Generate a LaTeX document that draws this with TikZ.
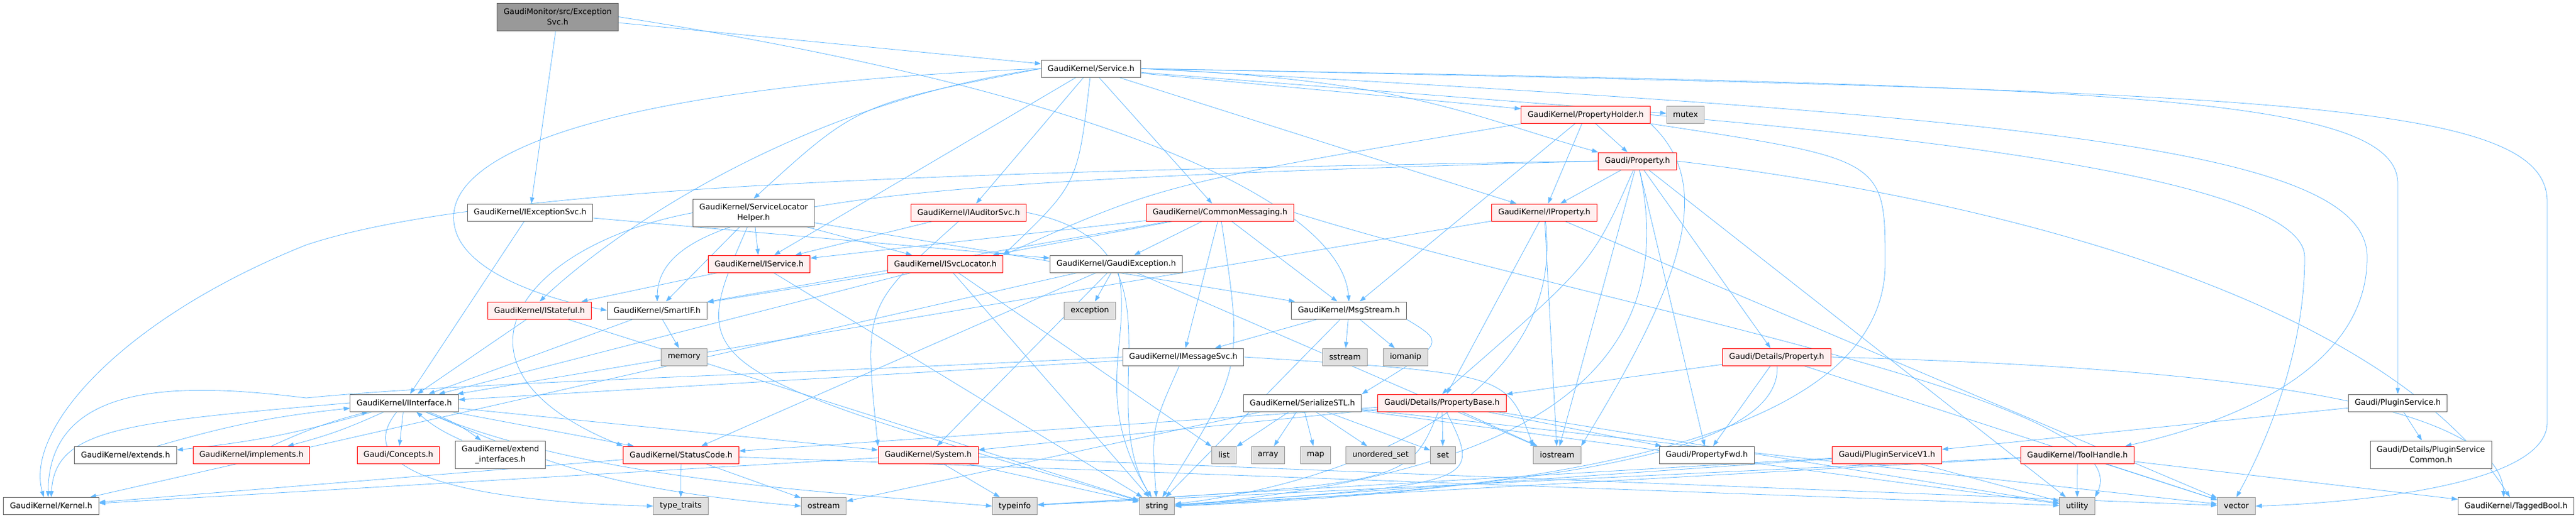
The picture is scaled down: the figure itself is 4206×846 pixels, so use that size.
\documentclass[tikz,border=0pt]{standalone}
\usepackage{fontspec}
\setmainfont{DejaVu Sans}
\usetikzlibrary{arrows.meta}
\pgfdeclarelayer{links}
\pgfsetlayers{links,main}
\definecolor{inclblue}{HTML}{63B8FF}
\definecolor{greyforty}{HTML}{666666}
\definecolor{greysixty}{HTML}{999999}
\definecolor{redfill}{HTML}{FFF0F0}
\definecolor{sysfill}{HTML}{E0E0E0}

\begin{document}
\begin{tikzpicture}[x=1pt,y=-1pt,
	filebox/.style={draw,line width=1pt,inner xsep=10.5pt,inner ysep=0pt,minimum height=28pt,align=center,font=\fontsize{12.8}{16.7}\selectfont},
	plainfile/.style={filebox,draw=greyforty,fill=white},
	redfile/.style={filebox,draw=red,fill=redfill},
	sysfile/.style={filebox,draw=greysixty,fill=sysfill},
	mainfile/.style={filebox,draw=greyforty,fill=greysixty},
	twoline/.style={minimum height=45pt},
	incl/.style={draw=inclblue,line width=0.8pt,-{Triangle[length=10pt,width=7pt]}}]
				\useasboundingbox (0,0) rectangle (4206,846);
				\node[mainfile,twoline] (exsvc) at (910.5,27.5) {GaudiMonitor/src/Exception\\Svc.h};
				\node[plainfile] (service) at (1781.5,112) {GaudiKernel/Service.h};
				\node[redfile] (propholder) at (2589,187.5) {GaudiKernel/PropertyHolder.h};
				\node[sysfile] (mutex) at (2752,187.5) {mutex};
				\node[redfile] (property) at (2673.5,263) {Gaudi/Property.h};
				\node[plainfile] (iexsvc) at (865.5,347) {GaudiKernel/IExceptionSvc.h};
				\node[plainfile,twoline] (slhelper) at (1230.5,347.5) {GaudiKernel/ServiceLocator\\Helper.h};
				\node[redfile] (iauditor) at (1581.5,347) {GaudiKernel/IAuditorSvc.h};
				\node[redfile] (commsg) at (1992,347) {GaudiKernel/CommonMessaging.h};
				\node[redfile] (iproperty) at (2521.5,347) {GaudiKernel/IProperty.h};
				\node[redfile] (iservice) at (1239.5,431) {GaudiKernel/IService.h};
				\node[redfile] (isvcloc) at (1543.5,431) {GaudiKernel/ISvcLocator.h};
				\node[plainfile] (gexception) at (1822.5,431) {GaudiKernel/GaudiException.h};
				\node[redfile] (istateful) at (881,507) {GaudiKernel/IStateful.h};
				\node[plainfile] (smartif) at (1073,507) {GaudiKernel/SmartIF.h};
				\node[sysfile] (exception) at (1779.5,507) {exception};
				\node[plainfile] (msgstream) at (2202.5,507) {GaudiKernel/MsgStream.h};
				\node[sysfile] (memory) at (1117,583) {memory};
				\node[plainfile] (imsgsvc) at (1932,583) {GaudiKernel/IMessageSvc.h};
				\node[sysfile] (sstream) at (2196,583) {sstream};
				\node[sysfile] (iomanip) at (2295,583) {iomanip};
				\node[redfile] (detprop) at (2901,583) {Gaudi/Details/Property.h};
				\node[plainfile] (iinterface) at (660,658) {GaudiKernel/IInterface.h};
				\node[plainfile] (serialstl) at (2126.5,658) {GaudiKernel/SerializeSTL.h};
				\node[redfile] (propbase) at (2354.5,658) {Gaudi/Details/PropertyBase.h};
				\node[plainfile] (pluginsvc) at (3915,658) {Gaudi/PluginService.h};
				\node[plainfile] (extends) at (205,743) {GaudiKernel/extends.h};
				\node[redfile] (implements) at (410.5,743) {GaudiKernel/implements.h};
				\node[redfile] (concepts) at (650.5,743) {Gaudi/Concepts.h};
				\node[plainfile,twoline] (extendif) at (817,742.5) {GaudiKernel/extend\\\_interfaces.h};
				\node[redfile] (statuscode) at (1112,743) {GaudiKernel/StatusCode.h};
				\node[redfile] (system) at (1515.5,743) {GaudiKernel/System.h};
				\node[sysfile] (list) at (1998.5,743) {list};
				\node[sysfile] (array) at (2070.5,743) {array};
				\node[sysfile] (map) at (2148,743) {map};
				\node[sysfile] (unordset) at (2254,743) {unordered\_set};
				\node[sysfile] (set) at (2356,743) {set};
				\node[sysfile] (iostream) at (2542.5,743) {iostream};
				\node[plainfile] (propfwd) at (2786.7,743) {Gaudi/PropertyFwd.h};
				\node[redfile] (pluginvone) at (3081,743) {Gaudi/PluginServiceV1.h};
				\node[redfile] (toolhandle) at (3392,743) {GaudiKernel/ToolHandle.h};
				\node[plainfile,twoline] (plugincommon) at (3969,742.5) {Gaudi/Details/PluginService\\Common.h};
				\node[plainfile] (kernel) at (83.5,826.5) {GaudiKernel/Kernel.h};
				\node[sysfile] (typetraits) at (1111.5,826.5) {type\_traits};
				\node[sysfile] (ostream) at (1345,826.5) {ostream};
				\node[sysfile] (typeinfo) at (1657,826.5) {typeinfo};
				\node[sysfile] (string) at (1889,826.5) {string};
				\node[sysfile] (utility) at (3391.5,826.5) {utility};
				\node[sysfile] (vector) at (3651.5,826.5) {vector};
				\node[plainfile] (taggedbool) at (4108,826.5) {GaudiKernel/TaggedBool.h};
				\begin{pgfonlayer}{links}
				\draw[incl] (exsvc) -- (iexsvc);
				\draw[incl] (exsvc) -- (service);
				\draw[incl] (exsvc.east) .. controls (1800,150) and (2190,330) .. (msgstream.north);
				\draw[incl] (iexsvc) -- (iinterface);
				\draw[incl] (iexsvc) -- (gexception);
				\draw[incl] (service.west) .. controls (1400,170) .. (slhelper.north);
				\draw[incl] (service.west) .. controls (1300,170) and (1000,380) .. (istateful.north);
				\draw[incl] (service.west) .. controls (1000,140) and (700,250) .. (745,380) .. controls (770,450) and (900,490) .. (smartif.west);
				\draw[incl] (service) -- (iservice);
				\draw[incl] (service) -- (iauditor);
				\draw[incl] (service) .. controls (1760,300) .. (isvcloc.north east);
				\draw[incl] (service) -- (commsg);
				\draw[incl] (service) -- (iproperty);
				\draw[incl] (service) -- (propholder);
				\draw[incl] (service) -- (mutex);
				\draw[incl] (service.east) .. controls (2300,130) and (2400,190) .. (property.north west);
				\draw[incl] (service.east) .. controls (3300,190) and (3865,240) .. (3865,420) .. controls (3865,620) and (3600,700) .. ([xshift=-15pt]toolhandle.north east);
				\draw[incl] (service.east) .. controls (3400,140) and (3915,150) .. (3915,300) -- (pluginsvc.north);
				\draw[incl] (service.east) .. controls (3700,150) and (4159,160) .. (4159,330) -- (4159,690) .. controls (4159,800) and (3800,823) .. (vector.east);
				\draw[incl] (slhelper) -- (iservice);
				\draw[incl] (slhelper) -- (smartif);
				\draw[incl] (slhelper) -- (isvcloc);
				\draw[incl] (slhelper) -- (msgstream);
				\draw[incl] (slhelper.west) .. controls (850,400) and (700,600) .. (statuscode.north west);
				\draw[incl] (slhelper) .. controls (1120,600) .. (string);
				\draw[incl] (iauditor) -- (iservice);
				\draw[incl] (iauditor) .. controls (1410,500) .. (system.north west);
				\draw[incl] (iauditor.east) .. controls (1950,400) and (1780,650) .. (string);
				\draw[incl] (commsg) -- (iservice);
				\draw[incl] (commsg) -- (smartif);
				\draw[incl] (commsg) -- (isvcloc);
				\draw[incl] (commsg) -- (gexception);
				\draw[incl] (commsg) -- (msgstream);
				\draw[incl] (commsg) -- (imsgsvc);
				\draw[incl] (commsg) .. controls (2030,600) .. (string);
				\draw[incl] (commsg.east) .. controls (2600,500) and (3500,650) .. (utility.north east);
				\draw[incl] (propholder) -- (property);
				\draw[incl] (propholder) -- (iproperty);
				\draw[incl] (propholder) -- (msgstream);
				\draw[incl] (propholder.south west) .. controls (1900,300) .. (isvcloc.north east);
				\draw[incl] (propholder.south east) .. controls (2800,300) and (2752,450) .. (iostream.north east);
				\draw[incl] (propholder.south east) .. controls (3078,260) .. (3078,430) .. controls (3078,700) and (2600,800) .. (string.east);
				\draw[incl] (propholder.east) .. controls (3200,230) and (3763,300) .. (3763,420) .. controls (3763,600) and (3680,760) .. (vector.north);
				\draw[incl] (property) -- (iproperty);
				\draw[incl] (property) .. controls (2600,430) .. (propbase.north);
				\draw[incl] (property) -- (detprop);
				\draw[incl] (property) -- (propfwd);
				\draw[incl] (property.west) .. controls (1600,280) and (800,300) .. (500,400) .. controls (200,520) and (40,700) .. ([xshift=-12pt]kernel.north);
				\draw[incl] (property.west) .. controls (1500,295) and (1075,320) .. (smartif.north);
				\draw[incl] (property.east) .. controls (3300,330) and (3900,500) .. ([xshift=-10pt]taggedbool.north);
				\draw[incl] (property) -- (iostream);
				\draw[incl] (property) .. controls (2770,700) and (2300,790) .. (string.east);
				\draw[incl] (property) -- (utility);
				\draw[incl] (iproperty) -- (iinterface);
				\draw[incl] (iproperty) -- (propbase);
				\draw[incl] (iproperty) -- (iostream);
				\draw[incl] (iproperty) .. controls (2560,650) and (2200,790) .. (string);
				\draw[incl] (iproperty) -- (vector);
				\draw[incl] (iservice) -- (istateful);
				\draw[incl] (iservice) -- (string);
				\draw[incl] (isvcloc) -- (iinterface);
				\draw[incl] (isvcloc) -- (smartif);
				\draw[incl] (isvcloc) -- (list);
				\draw[incl] (isvcloc) -- (string);
				\draw[incl] (gexception) -- (kernel);
				\draw[incl] (gexception) -- (statuscode);
				\draw[incl] (gexception) -- (system);
				\draw[incl] (gexception) -- (exception);
				\draw[incl] (gexception) -- (iostream);
				\draw[incl] (gexception) .. controls (1850,550) and (1780,650) .. (string);
				\draw[incl] (istateful) -- (iinterface);
				\draw[incl] (istateful) -- (string);
				\draw[incl] (smartif) -- (iinterface);
				\draw[incl] (smartif) -- (memory);
				\draw[incl] (msgstream) -- (imsgsvc);
				\draw[incl] (msgstream.south east) .. controls (2360,560) .. (serialstl.north east);
				\draw[incl] (msgstream) -- (sstream);
				\draw[incl] (msgstream) -- (iomanip);
				\draw[incl] (msgstream) -- (string);
				\draw[incl] (imsgsvc) -- (iinterface);
				\draw[incl] (imsgsvc.west) .. controls (1200,615) and (750,625) .. (500,650) .. controls (300,625) and (80,620) .. ([xshift=-5pt]kernel.north);
				\draw[incl] (imsgsvc.east) .. controls (2460,610) .. (iostream.north west);
				\draw[incl] (imsgsvc) .. controls (1880,700) .. (string);
				\draw[incl] (serialstl) -- (ostream);
				\draw[incl] (serialstl) -- (list);
				\draw[incl] (serialstl) -- (array);
				\draw[incl] (serialstl) -- (map);
				\draw[incl] (serialstl) -- (unordset);
				\draw[incl] (serialstl) -- (set);
				\draw[incl] (serialstl) -- (utility);
				\draw[incl] (serialstl) -- (vector);
				\draw[incl] (propbase) -- (system);
				\draw[incl] (propbase) -- (statuscode);
				\draw[incl] (propbase) -- (set);
				\draw[incl] (propbase) -- (iostream);
				\draw[incl] (propbase) -- (propfwd);
				\draw[incl] (propbase) .. controls (2420,790) .. (string);
				\draw[incl] (propbase) .. controls (2300,790) .. (typeinfo);
				\draw[incl] (propbase) -- (utility);
				\draw[incl] (detprop) -- (propbase);
				\draw[incl] (detprop) -- (propfwd);
				\draw[incl] (detprop) .. controls (2910,760) and (2400,800) .. (string.east);
				\draw[incl] (detprop.east) .. controls (3600,600) and (4080,650) .. ([xshift=-20pt]taggedbool.north);
				\draw[incl] (detprop) -- (vector);
				\draw[incl] (pluginvone) -- (string);
				\draw[incl] (pluginvone) -- (typeinfo);
				\draw[incl] (pluginvone) -- (utility);
				\draw[incl] (pluginsvc) -- (pluginvone);
				\draw[incl] (pluginsvc) -- (plugincommon);
				\draw[incl] (toolhandle) -- (string);
				\draw[incl] (toolhandle) -- (typeinfo);
				\draw[incl] (toolhandle) -- (utility);
				\draw[incl] (toolhandle) -- (vector);
				\draw[incl] (toolhandle) -- (taggedbool);
				\draw[incl] (iinterface) -- (concepts);
				\draw[incl] (iinterface.west) .. controls (200,690) and (90,700) .. (kernel.north);
				\draw[incl] (iinterface) -- (statuscode);
				\draw[incl] (iinterface) -- (system);
				\draw[incl] (iinterface) .. controls (900,760) and (1000,800) .. (ostream.west);
				\draw[incl] (iinterface) .. controls (560,780) and (800,820) .. (typetraits.west);
				\draw[incl] (iinterface) .. controls (950,780) and (1300,800) .. (typeinfo.west);
				\draw[incl] (iinterface) to[bend left=5] (extends);
				\draw[incl] (extends) to[bend left=5] (iinterface);
				\draw[incl] (iinterface) to[bend left=5] (implements);
				\draw[incl] (implements) to[bend left=5] (iinterface);
				\draw[incl] (iinterface) to[bend left=8] (extendif);
				\draw[incl] (extendif) to[bend left=8] (iinterface);
				\draw[incl] (statuscode) -- (kernel);
				\draw[incl] (statuscode) -- (typetraits);
				\draw[incl] (statuscode) -- (ostream);
				\draw[incl] (statuscode) -- (utility);
				\draw[incl] (system) -- (kernel);
				\draw[incl] (system) -- (typeinfo);
				\draw[incl] (system) -- (string);
				\draw[incl] (system) -- (vector);
				\end{pgfonlayer}
\end{tikzpicture}
\end{document}
